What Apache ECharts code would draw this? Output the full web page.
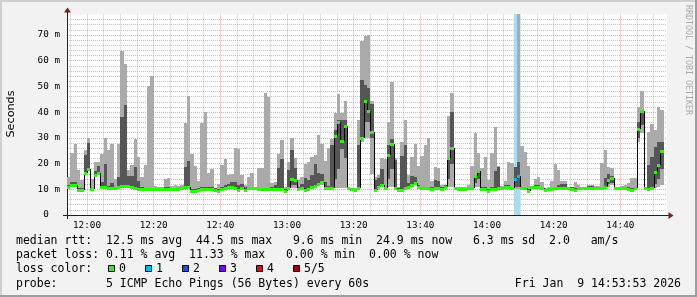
<!DOCTYPE html>
<html><head><meta charset="utf-8">
<script src="https://cdn.jsdelivr.net/npm/echarts@6/dist/echarts.min.js"></script>
<style>html,body{margin:0;padding:0;background:#f2f2f2}#c{width:697px;height:297px}</style>
</head><body><div id="c"></div>
<script>
// ---- data (one value per minute, bars end at 11:55 ... 14:54) ----
const startMinute = 714; // 11:54 = left edge of first bar
const median = [
10.8,11.7,11.6,9.8,9.8,16.2,17.9,10.0,15.4,16.3, 10.7,11.0,10.4,10.4,10.4,10.8,11.4,11.4,11.3,11.0,
10.4,10.1,10.1,10.0,10.0,10.0,10.0,10.0,10.0,10.3, 10.1,10.0,10.0,10.0,10.6,11.0,11.0,9.4,9.4,9.9,
10.2,10.3,10.3,10.3,9.9,9.5,10.0,10.4,10.8,11.0, 10.6,9.8,10.4,9.7,10.4,10.6,10.4,10.0,10.0,10.0,
10.0,10.0,10.0,10.0,10.0,9.4,10.6,14.0,13.6,10.2, 10.6,9.7,10.1,11.0,11.4,11.9,13.0,10.6,10.6,10.6,
30.9,36.3,28.8,34.6,10.4,10.1,9.7,10.6,29.8,44.5, 40.4,32.4,9.7,11.0,11.7,10.4,23.3,27.7,10.6,9.7,
9.7,10.4,11.0,11.7,12.3,11.0,10.4,10.4,10.4,10.1, 10.4,10.4,10.1,11.0,22.3,26.2,10.4,10.1,10.1,10.1,
10.4,10.4,15.3,17.1,10.1,10.1,9.5,10.1,10.1,10.4, 10.6,10.8,11.0,10.4,13.9,15.2,10.4,10.4,9.5,10.8,
10.8,11.0,10.4,9.7,10.1,10.1,10.4,10.4,10.6,10.6, 10.4,10.2,9.7,10.4,10.4,10.4,10.6,10.6,10.6,10.6,
10.6,10.8,13.6,14.3,10.4,10.4,10.6,10.6,10.1,9.7, 10.4,33.3,40.4,10.4,10.1,10.6,16.9,19.4,24.9,null
];
const pingMin = [
10.3,11.1,11.0,9.3,9.3,15.7,17.3,9.5,14.8,15.7, 10.2,10.4,9.9,9.9,9.9,10.3,10.8,10.8,10.7,10.5,
9.9,9.6,9.6,9.5,9.5,9.5,9.5,9.5,9.5,9.8, 9.6,9.5,9.5,9.5,10.1,10.4,10.4,8.9,8.9,9.4,
9.7,9.8,9.8,9.8,9.4,9.0,9.5,9.9,10.2,10.4, 10.1,9.3,9.9,9.2,9.9,10.1,9.9,9.5,9.5,9.5,
9.5,9.5,9.5,9.5,9.5,8.9,10.1,10.6,10.6,9.7, 10.1,9.2,9.6,10.4,10.8,11.2,11.5,10.1,10.1,10.1,
10.6,10.6,10.6,10.6,9.9,9.6,9.2,10.1,28.5,30.0, 30.0,16.0,9.2,10.4,11.0,9.9,11.0,11.0,10.1,9.2,
9.2,9.9,10.4,11.0,11.5,10.4,9.9,9.9,9.9,9.6, 9.9,9.9,9.6,10.4,11.0,11.0,9.9,9.6,9.6,9.6,
9.9,9.9,11.0,11.0,9.6,9.6,9.0,9.6,9.6,9.9, 10.1,10.2,10.4,9.9,10.2,10.2,9.9,9.9,9.0,10.2,
10.2,10.4,9.9,9.2,9.6,9.6,9.9,9.9,10.1,10.1, 9.9,9.7,9.2,9.9,9.9,9.9,10.1,10.1,10.1,10.1,
10.1,10.2,11.0,11.5,9.9,9.9,10.1,10.1,9.6,9.2, 9.9,28.5,31.8,9.9,9.6,10.1,10.5,11.0,11.5,null
];
const pingLow = [
10.5,11.3,11.3,9.6,9.6,15.9,17.6,9.8,15.0,16.0, 10.4,10.6,10.2,10.2,10.2,10.5,11.0,11.0,10.9,10.7,
10.2,9.9,9.9,9.8,9.8,9.8,9.8,9.8,9.8,10.0, 9.9,9.8,9.8,9.8,10.3,10.6,10.6,9.2,9.2,9.7,
10.0,10.0,10.0,10.0,9.7,9.3,9.8,10.1,10.5,10.7, 10.3,9.6,10.1,9.5,10.1,10.3,10.1,9.8,9.8,9.8,
9.8,9.8,9.8,9.8,9.8,9.2,10.3,11.5,11.5,9.9, 10.3,9.5,9.9,10.6,11.0,11.4,12.2,10.3,10.3,10.3,
14.0,18.0,25.5,22.0,10.1,9.9,9.5,10.3,29.2,36.0, 36.0,30.0,9.5,10.6,11.2,10.1,14.0,18.0,10.3,9.5,
9.5,10.1,10.6,11.2,11.7,10.6,10.1,10.1,10.1,9.9, 10.1,10.1,9.9,10.6,14.0,20.0,10.1,9.9,9.9,9.9,
10.1,10.1,12.5,14.0,9.9,9.9,9.3,9.9,9.9,10.1, 10.3,10.5,10.6,10.1,11.0,11.0,10.1,10.1,9.3,10.5,
10.5,10.6,10.1,9.5,9.9,9.9,10.1,10.1,10.3,10.3, 10.1,9.9,9.5,10.1,10.1,10.1,10.3,10.3,10.3,10.3,
10.3,10.5,12.0,12.5,10.1,10.1,10.3,10.3,9.9,9.5, 10.1,30.0,35.0,10.1,9.9,10.3,12.0,14.0,18.0,null
];
const pingHigh = [
11.6,13.0,13.0,10.4,10.4,23.3,27.9,10.6,17.3,18.9, 13.0,19.8,11.2,12.3,11.0,14.9,38.2,42.6,15.3,15.2,
18.8,13.2,10.8,10.6,10.6,10.6,10.5,10.4,10.4,11.0, 10.9,10.6,10.6,10.5,11.0,18.6,21.0,10.0,10.0,10.4,
10.8,10.9,10.9,10.9,10.4,10.0,11.0,11.6,12.0,13.0, 13.0,11.5,12.2,10.8,10.9,11.0,10.9,10.5,10.5,10.5,
10.5,11.0,11.7,18.1,21.8,10.0,17.5,25.3,18.1,10.8, 11.9,14.5,13.6,15.6,19.7,16.2,16.0,13.0,11.2,27.2,
33.0,36.9,36.9,36.9,10.6,10.5,10.2,27.2,52.5,50.5, 49.3,43.0,13.6,14.3,17.9,11.0,27.2,29.6,21.5,10.4,
23.1,27.2,12.3,15.2,14.9,11.7,11.0,11.0,11.0,10.7, 13.6,13.2,10.7,11.6,22.4,40.2,10.9,10.6,10.6,10.6,
11.0,11.0,15.6,17.5,10.7,11.0,10.2,10.7,17.1,18.6, 11.0,11.7,11.6,11.0,18.8,20.7,11.0,11.0,10.2,11.0,
11.5,11.7,11.0,10.3,10.6,10.6,11.0,11.7,12.0,12.0, 10.9,10.8,10.4,11.0,10.9,10.9,11.2,11.2,11.0,11.0,
11.0,14.3,15.8,15.2,10.9,10.9,11.0,11.0,10.7,10.4, 11.0,36.3,40.8,10.9,19.4,22.7,26.6,28.5,28.5,null
];
const pingMax = [
14.9,24.0,27.7,17.5,13.7,25.3,29.8,13.9,20.6,20.6, 23.8,29.8,25.3,27.6,14.0,27.6,63.9,58.7,17.5,19.4,
29.7,22.5,14.8,19.4,50.2,54.0,11.3,10.7,10.9,14.0, 14.2,11.2,11.8,11.3,11.7,35.9,46.3,23.6,19.0,13.3,
35.9,40.2,16.4,17.9,10.5,12.0,19.4,21.8,15.5,16.0, 26.0,25.5,15.6,11.5,14.9,16.2,11.0,18.1,18.1,47.3,
46.0,12.3,13.0,23.6,29.2,11.0,20.7,29.8,22.3,13.6, 14.9,19.7,20.7,22.7,23.3,31.1,27.5,21.0,25.9,29.6,
39.5,46.9,39.5,44.3,10.8,10.6,10.4,36.9,67.7,69.7, 70.0,44.3,14.9,15.6,22.0,21.8,36.0,51.9,22.0,11.0,
28.5,36.9,15.6,22.4,27.6,19.0,23.1,27.2,29.8,13.2, 18.7,18.4,11.7,11.7,38.6,47.3,11.0,10.9,10.9,10.9,
11.7,19.2,32.0,24.0,18.4,22.4,13.6,24.2,34.4,19.0, 11.2,13.2,20.5,20.1,18.8,78.0,27.0,24.6,19.2,11.1,
14.0,14.9,13.0,10.4,10.7,13.2,19.8,17.5,13.2,13.2, 11.0,11.0,12.7,11.7,11.0,11.0,11.7,11.7,11.2,11.2,
20.4,25.3,18.8,18.1,11.0,11.0,11.3,11.7,12.3,14.3, 14.3,42.1,48.2,11.0,32.4,35.3,33.0,42.1,40.8,null
];
const lostPings = [
0,0,0,0,0,0,0,0,0,0, 0,0,0,0,0,0,0,0,0,0, 0,0,0,0,0,0,0,0,0,0,
0,0,0,0,0,0,0,0,0,0, 0,0,0,0,0,0,0,0,0,0, 0,0,0,0,0,0,0,0,0,0,
0,0,0,0,0,0,0,0,0,0, 0,0,0,0,0,0,0,0,0,0, 0,0,0,0,0,0,0,0,0,0,
0,0,0,0,0,0,0,0,0,0, 0,0,0,0,0,0,0,0,0,0, 0,0,0,0,0,0,0,0,0,0,
0,0,0,0,0,0,0,0,0,0, 0,0,0,0,1,1,0,0,0,0, 0,0,0,0,0,0,0,0,0,0,
0,0,0,0,0,0,0,0,0,0, 0,0,0,0,0,0,0,0,0,0, 0,0,0,0,0,0,0,0,0,0
];
const lossLabels = ['0','1','2','3','4','5/5'];
const lossColors = ['#26ff00','#00b8ff','#0059ff','#7e00ff','#ff0000','#a10000'];
const lossBarColors = ['#ffffff','#a6dcf5','#a6c2f5','#cfa6f5','#f5a6a6','#e0a6a6'];
const xLabelEvery = 20, xGridEvery = 5;
const yMin = 0, yMax = 78, yGridStep = 2, yLabelEvery = 10;
const statLines = [
  'median rtt:  12.5 ms avg  44.5 ms max   9.6 ms min  24.9 ms now   6.3 ms sd  2.0   am/s',
  'packet loss: 0.11 % avg  11.33 % max   0.00 % min  0.00 % now',
  'loss color:',
  'probe:       5 ICMP Echo Pings (56 Bytes) every 60s'
];
const stamp = 'Fri Jan  9 14:53:53 2026';

// ---- build ----
const endMinute = startMinute + median.length;
const outer = [], inner = [], med = [], lossBars = [];
for (let i = 0; i < median.length; i++) {
  if (median[i] == null) continue;
  const t = startMinute + 1 + i;
  outer.push([t, pingMin[i], pingMax[i]]);
  inner.push([t, pingLow[i], pingHigh[i]]);
  const prev = (i > 0 && median[i-1] != null) ? median[i-1] : median[i];
  med.push([t, median[i], prev, lostPings[i]]);
  if (lostPings[i] > 0) lossBars.push([t, yMin, yMax, lostPings[i]]);
}
function band(fill) {
  return function (params, api) {
    const t = api.value(0);
    const a = api.coord([t - 1, api.value(2)]);
    const b = api.coord([t, api.value(1)]);
    const x0 = Math.round(a[0]), x1 = Math.round(b[0]);
    const y0 = Math.round(a[1]), y1 = Math.round(b[1]);
    return {type: 'rect', shape: {x: x0, y: y0, width: x1 - x0, height: y1 - y0},
            style: {fill: typeof fill === 'function' ? fill(api) : fill}};
  };
}
function medianItem(params, api) {
  const t = api.value(0), m = api.value(1), pm = api.value(2), lc = api.value(3);
  const a = api.coord([t - 1, m]), b = api.coord([t, m]);
  const x0 = Math.round(a[0]), x1 = Math.round(b[0]);
  const y = Math.round(a[1]);
  const yp = Math.round(api.coord([t - 1, pm])[1]);
  const ch = [];
  if (yp !== y) ch.push({type: 'line', shape: {x1: x0 + 0.5, y1: yp, x2: x0 + 0.5, y2: y}, style: {stroke: '#000', lineWidth: 1}});
  ch.push({type: 'rect', shape: {x: x0, y: y - 1, width: x1 - x0, height: 3}, style: {fill: lossColors[lc]}});
  return {type: 'group', children: ch};
}
const GRAY = 'rgba(143,143,143,0.55)', RED = 'rgba(222,79,79,0.5)', NONE = 'rgba(0,0,0,0)';
const xColors = [];
for (let k = 0; k < xLabelEvery; k++) {
  const m = startMinute + k;
  xColors.push(m % xLabelEvery === 0 ? RED : (m % xGridEvery === 0 ? GRAY : NONE));
}
const yColors = [];
for (let k = 0; k < yLabelEvery / yGridStep; k++) yColors.push(k === 0 ? RED : GRAY);
const MONO = '"DejaVu Sans Mono", monospace';
const pad = n => (n < 10 ? '0' : '') + n;

const graphics = [
  {type: 'rect', shape: {x: 0, y: 0, width: 697, height: 2}, style: {fill: '#cfcfcf'}},
  {type: 'rect', shape: {x: 0, y: 0, width: 2, height: 297}, style: {fill: '#cfcfcf'}},
  {type: 'rect', shape: {x: 695, y: 0, width: 2, height: 297}, style: {fill: '#9e9e9e'}},
  {type: 'rect', shape: {x: 0, y: 295, width: 697, height: 2}, style: {fill: '#9e9e9e'}},
  {type: 'line', shape: {x1: 67.5, y1: 14, x2: 67.5, y2: 11}, style: {stroke: '#202020', lineWidth: 1}},
  {type: 'polygon', shape: {points: [[64, 12.5], [71, 12.5], [67.5, 7.5]]}, style: {fill: '#801f1f'}},
  {type: 'line', shape: {x1: 667, y1: 215.5, x2: 669, y2: 215.5}, style: {stroke: '#202020', lineWidth: 1}},
  {type: 'polygon', shape: {points: [[668.5, 212], [668.5, 219], [673.5, 215.5]]}, style: {fill: '#801f1f'}},
  {type: 'line', shape: {x1: 63, y1: 215.5, x2: 67, y2: 215.5}, style: {stroke: '#202020', lineWidth: 1}},
  {type: 'line', shape: {x1: 67.5, y1: 215, x2: 67.5, y2: 219}, style: {stroke: '#202020', lineWidth: 1}},
  {type: 'text', x: 11, y: 114, rotation: Math.PI / 2,
   style: {text: 'Seconds', font: '11.2px "DejaVu Sans"', fill: '#000', align: 'center', verticalAlign: 'middle'}},
  {type: 'text', x: 688.5, y: 60, rotation: -Math.PI / 2,
   style: {text: 'RRDTOOL / TOBI OETIKER', font: '8.3px ' + MONO, fill: '#aaaaaa', align: 'center', verticalAlign: 'middle'}},
  {type: 'text', x: 681, y: 283.6, style: {text: stamp, font: '11.5px ' + MONO, fill: '#000', align: 'right', verticalAlign: 'middle'}}
];
const lineY = [241, 255.2, 269.4, 283.6];
statLines.forEach((s, i) => graphics.push({type: 'text', x: 16, y: lineY[i],
  style: {text: s, font: '11.5px ' + MONO, fill: '#000', align: 'left', verticalAlign: 'middle'}}));
lossLabels.forEach((lab, k) => {
  const x = 108.5 + k * 37;
  graphics.push({type: 'rect', shape: {x: x, y: 265.5, width: 6, height: 6}, style: {fill: lossColors[k], stroke: '#000', lineWidth: 1}});
  graphics.push({type: 'text', x: x + 10.5, y: lineY[2], style: {text: lab, font: '11.5px ' + MONO, fill: '#000', align: 'left', verticalAlign: 'middle'}});
});

const chart = echarts.init(document.getElementById('c'), null, {renderer: 'canvas', width: 697, height: 297});
chart.setOption({
  animation: false,
  backgroundColor: '#f2f2f2',
  grid: {left: 67, right: 30, top: 14.43, bottom: 82, show: true, backgroundColor: '#ffffff', borderWidth: 0, outerBoundsMode: 'none', containLabel: false},
  xAxis: {
    type: 'value', min: startMinute, max: endMinute, interval: 1,
    axisLine: {show: true, lineStyle: {color: '#202020', width: 1}},
    axisTick: {show: false},
    axisLabel: {margin: 6, fontFamily: MONO, fontSize: 9.3, color: '#000',
      formatter: v => (v % xLabelEvery === 0 ? pad(Math.floor(v / 60)) + ':' + pad(v % 60) : '')},
    splitLine: {show: true, showMinLine: true, showMaxLine: true, lineStyle: {color: xColors, type: 'dotted', width: 1}}
  },
  yAxis: {
    type: 'value', min: yMin, max: yMax, interval: yGridStep,
    axisLine: {show: true, lineStyle: {color: '#202020', width: 1}},
    axisTick: {show: false},
    axisLabel: {margin: 7, fontFamily: MONO, fontSize: 9.3, color: '#000',
      formatter: v => (v % yLabelEvery === 0 ? (v === 0 ? '0  ' : v + ' m') : '')},
    splitLine: {show: true, showMinLine: true, showMaxLine: false, lineStyle: {color: yColors, type: 'dotted', width: 1}}
  },
  graphic: {elements: graphics},
  series: [
    {type: 'custom', silent: true, renderItem: band(api => lossBarColors[api.value(3)]), data: lossBars, encode: {x: 0, y: [1, 2]}},
    {type: 'custom', silent: true, renderItem: band('#aaaaaa'), data: outer, encode: {x: 0, y: [1, 2]}},
    {type: 'custom', silent: true, renderItem: band('#565656'), data: inner, encode: {x: 0, y: [1, 2]}},
    {type: 'custom', silent: true, renderItem: medianItem, data: med, encode: {x: 0, y: 1}}
  ]
});
</script></body></html>
